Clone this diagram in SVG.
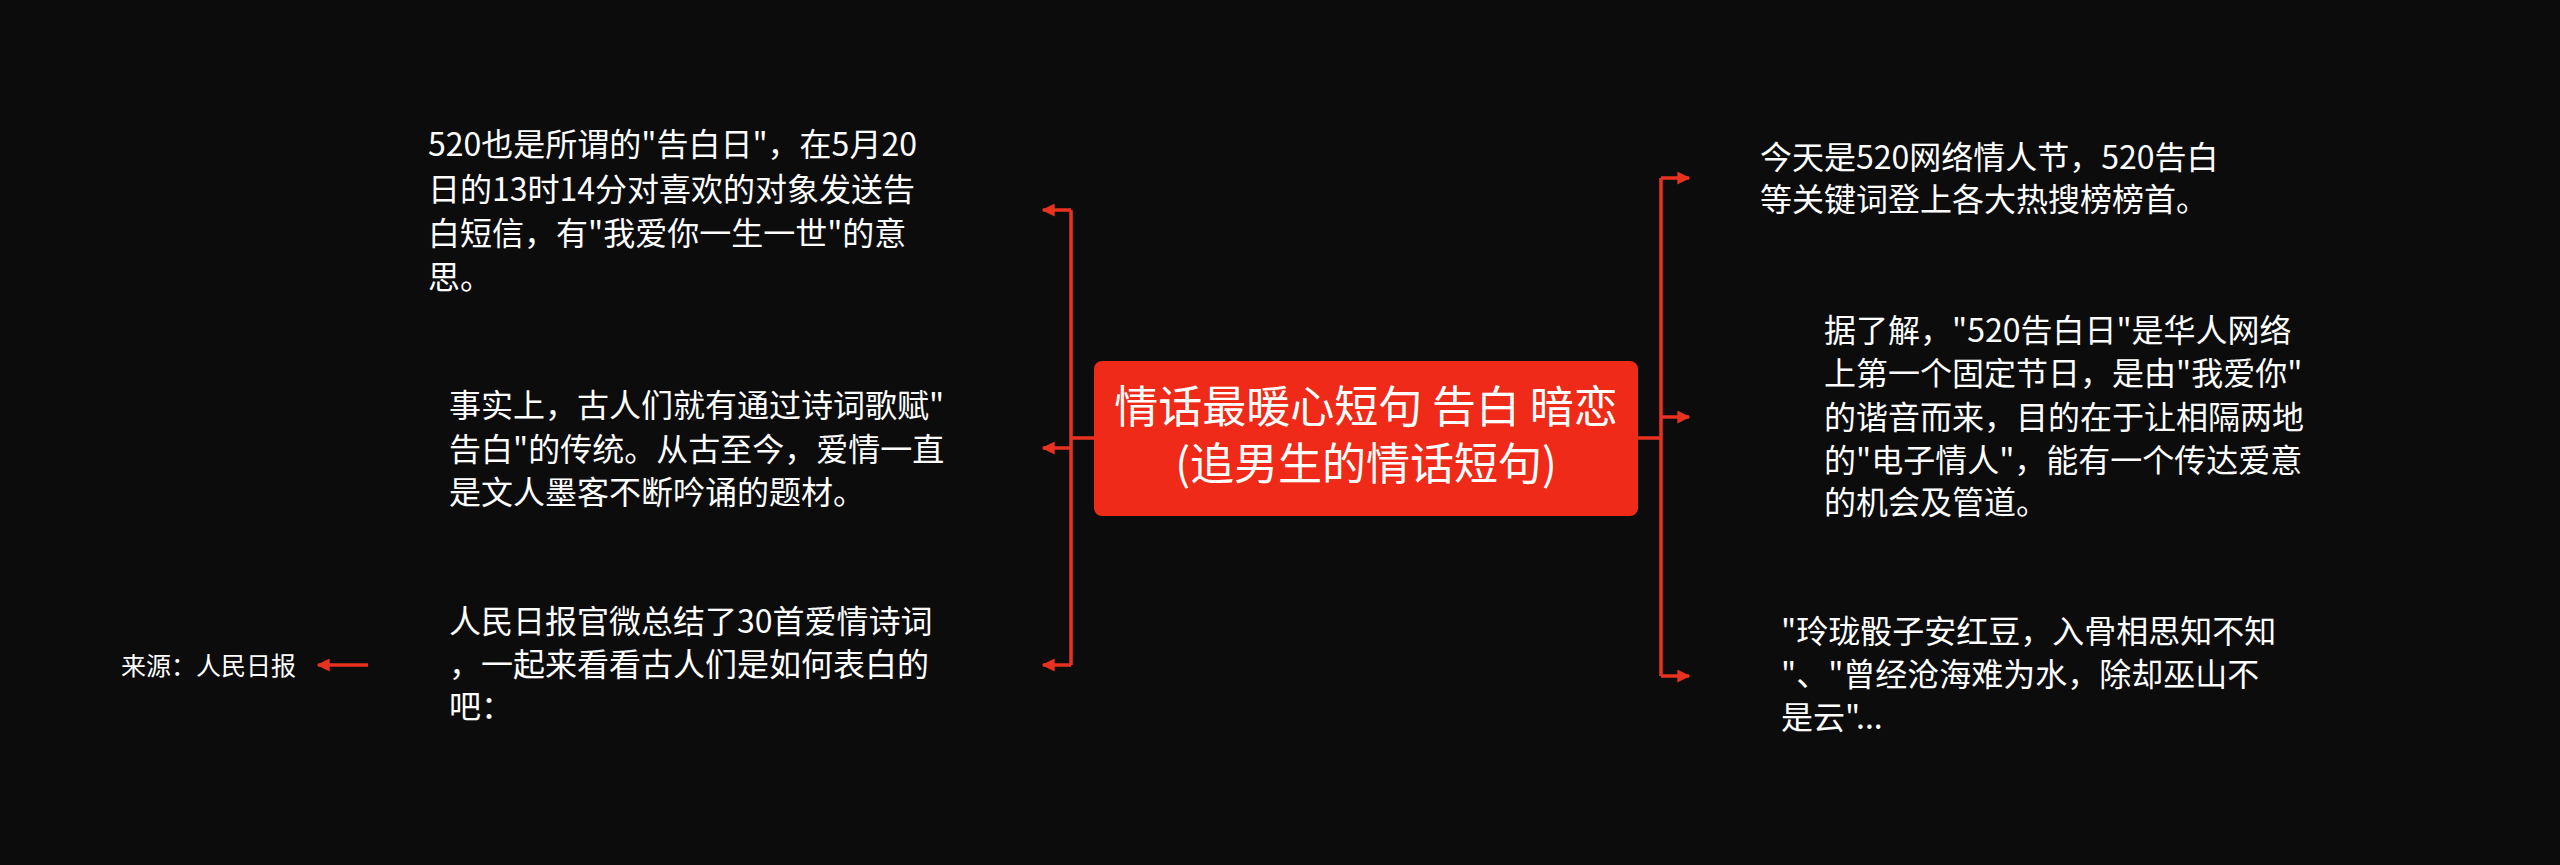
<svg xmlns="http://www.w3.org/2000/svg" width="2560" height="865" viewBox="0 0 2560 865">
<defs>
<marker id="ah" viewBox="0 0 10 10" refX="9" refY="5" markerWidth="13" markerHeight="13" markerUnits="userSpaceOnUse" orient="auto"><path d="M0,0 L10,5 L0,10 z" fill="#e8321f"/></marker>
</defs>
<style>
.t{font-family:"Noto Sans CJK SC","Noto Sans",sans-serif;font-size:32px;fill:#ffffff}
.c{stroke:#e8321f;stroke-width:3.5;fill:none}
</style>
<rect width="2560" height="865" fill="#0c0c0c"/>
<g id="connectors">
<path class="c" d="M1094,438 H1071"/>
<path class="c" d="M1071,210 V665"/>
<path class="c" d="M1071,210 H1043" marker-end="url(#ah)"/>
<path class="c" d="M1071,448 H1043" marker-end="url(#ah)"/>
<path class="c" d="M1071,665 H1043" marker-end="url(#ah)"/>
<path class="c" d="M1638,438 H1661"/>
<path class="c" d="M1661,178 V676"/>
<path class="c" d="M1661,178 H1689" marker-end="url(#ah)"/>
<path class="c" d="M1661,417 H1689" marker-end="url(#ah)"/>
<path class="c" d="M1661,676 H1689" marker-end="url(#ah)"/>
<path class="c" d="M368,665 H318" marker-end="url(#ah)"/>
</g>
<g id="center">
<rect x="1094" y="361" width="544" height="155" rx="8" fill="#ef2a18"/>
<text class="t" style="font-size:44px" x="1366" y="423" text-anchor="middle">情话最暖心短句 告白 暗恋</text>
<text class="t" style="font-size:44px" x="1366" y="480" text-anchor="middle">(追男生的情话短句)</text>
</g>
<g id="l1"><text class="t" x="428" y="156">520也是所谓的"告白日"，在5月20</text><text class="t" x="428" y="201">日的13时14分对喜欢的对象发送告</text><text class="t" x="428" y="245">白短信，有"我爱你一生一世"的意</text><text class="t" x="428" y="289">思。</text></g>
<g id="l2"><text class="t" x="449" y="417">事实上，古人们就有通过诗词歌赋"</text><text class="t" x="449" y="461">告白"的传统。从古至今，爱情一直</text><text class="t" x="449" y="504">是文人墨客不断吟诵的题材。</text></g>
<g id="l3"><text class="t" x="449" y="633">人民日报官微总结了30首爱情诗词</text><text class="t" x="449" y="676">，一起来看看古人们是如何表白的</text><text class="t" x="449" y="718">吧：</text></g>
<g id="src"><text class="t" style="font-size:25px" x="121" y="675">来源：人民日报</text></g>
<g id="r1"><text class="t" x="1760" y="169">今天是520网络情人节，520告白</text><text class="t" x="1760" y="211">等关键词登上各大热搜榜榜首。</text></g>
<g id="r2"><text class="t" x="1824" y="342">据了解，"520告白日"是华人网络</text><text class="t" x="1824" y="385">上第一个固定节日，是由"我爱你"</text><text class="t" x="1824" y="429">的谐音而来，目的在于让相隔两地</text><text class="t" x="1824" y="472">的"电子情人"，能有一个传达爱意</text><text class="t" x="1824" y="514">的机会及管道。</text></g>
<g id="r3"><text class="t" x="1781" y="643">"玲珑骰子安红豆，入骨相思知不知</text><text class="t" x="1781" y="686">"、"曾经沧海难为水，除却巫山不</text><text class="t" x="1781" y="729">是云"...</text></g>
</svg>
